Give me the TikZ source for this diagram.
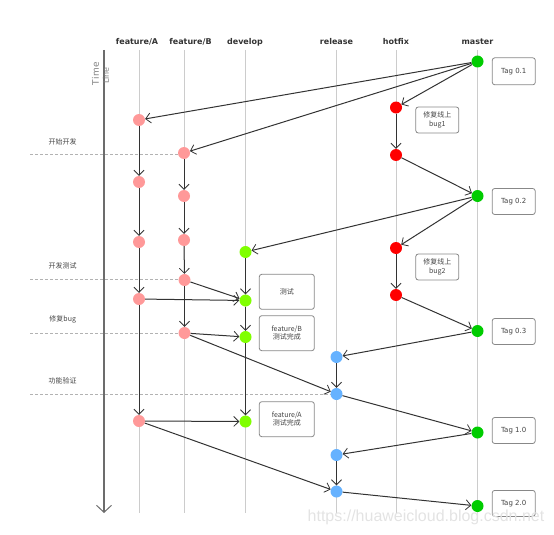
\documentclass[tikz,border=0pt]{standalone}
\usepackage{fontspec}
\setmainfont{DejaVu Sans}
\newfontfamily\cjk{Noto Sans CJK SC}
\newfontfamily\wmfont{Liberation Sans}
\newfontfamily\spacedfont[LetterSpace=8]{DejaVu Sans}
\usetikzlibrary{arrows.meta}
\definecolor{pinkc}{HTML}{FF9999}
\definecolor{devc}{HTML}{80FF00}
\definecolor{relc}{HTML}{66B2FF}
\definecolor{hotc}{HTML}{FF0000}
\definecolor{masc}{HTML}{00CC00}
\definecolor{lanec}{HTML}{CCCCCC}
\definecolor{edgec}{HTML}{333333}
\definecolor{boxc}{HTML}{888888}
\definecolor{txtc}{HTML}{444444}
\tikzset{
  lane/.style={draw=lanec, line width=0.9pt},
  phase/.style={draw=gray!60, line width=0.7pt, dash pattern=on 3pt off 2pt},
  dot/.style={circle, inner sep=0pt, minimum size=12pt},
  fdot/.style={dot, fill=pinkc},
  ddot/.style={dot, fill=devc},
  rdot/.style={dot, fill=relc},
  hdot/.style={dot, fill=hotc},
  mdot/.style={dot, fill=masc},
  edge/.style={draw=edgec, line width=1pt, -{Straight Barb[length=5pt,width=10pt,line width=0.8pt]}},
  lanelabel/.style={font=\fontsize{8}{9}\selectfont\bfseries, text=edgec},
  phaselabel/.style={font=\cjk\fontsize{7}{8}\selectfont, text=txtc},
  tagbox/.style={draw=boxc, rounded corners=2.5pt, fill=white, line width=0.8pt,
    minimum width=43pt, minimum height=26pt, inner sep=1pt, align=center,
    font=\fontsize{7}{8.5}\selectfont, text=txtc},
  notebox/.style={tagbox, minimum width=55pt, minimum height=35pt},
  timelabel/.style={rotate=90, anchor=west, text=gray, inner sep=0pt},
}
\begin{document}
\begin{tikzpicture}[x=1pt,y=-1pt]
\useasboundingbox (0,0) rectangle (554,535);
% lanes
\foreach \x in {139,184,245.5,336.5,396,477.5} \draw[lane] (\x,50) -- (\x,513);
% time axis
\draw[draw=gray!85!black, line width=1.6pt, -{Straight Barb[length=7pt,width=15pt,line width=1pt]}] (104,50) -- (104,513);
\node[timelabel, font=\spacedfont\fontsize{9}{10}\selectfont] (tl1) at (95.5,86) {Time};
\node[timelabel, font=\fontsize{8}{9}\selectfont] (tl2) at (106,84) {Line};
% phase lines
\draw[phase] (30,154) -- (184,154);
\draw[phase] (30,279) -- (184,279);
\draw[phase] (30,333) -- (184,333);
\draw[phase] (30,394) -- (336.5,394);
\node[phaselabel] (p1) at (62.7,141.7) {开始开发};
\node[phaselabel] (p2) at (62.7,265.7) {开发测试};
\node[phaselabel] (p3) at (62.7,319.3) {修复bug};
\node[phaselabel] (p4) at (62.7,380.7) {功能验证};
% lane labels
\node[lanelabel] (la) at (137,42) {feature/A};
\node[lanelabel] (lb) at (190.5,42) {feature/B};
\node[lanelabel] (ld) at (245,42) {develop};
\node[lanelabel] (lr) at (336.5,42) {release};
\node[lanelabel] (lh) at (396,42) {hotfix};
\node[lanelabel] (lm) at (477.5,42) {master};
% nodes
\node[fdot] (fa1) at (139,120) {};
\node[fdot] (fa2) at (139,182) {};
\node[fdot] (fa3) at (139,242) {};
\node[fdot] (fa4) at (139,299) {};
\node[fdot] (fa5) at (139,421) {};
\node[fdot] (fb1) at (184,153) {};
\node[fdot] (fb2) at (184,196) {};
\node[fdot] (fb3) at (184,240) {};
\node[fdot] (fb4) at (184.5,280) {};
\node[fdot] (fb5) at (184.5,333) {};
\node[ddot] (dv1) at (245.5,252) {};
\node[ddot] (dv2) at (245.5,300.5) {};
\node[ddot] (dv3) at (245.5,337) {};
\node[ddot] (dv4) at (245.5,421.5) {};
\node[rdot] (rl1) at (336.5,357) {};
\node[rdot] (rl2) at (336.5,394) {};
\node[rdot] (rl3) at (336.5,455) {};
\node[rdot] (rl4) at (336.5,491.5) {};
\node[hdot] (hf1) at (396,107.5) {};
\node[hdot] (hf2) at (396,155) {};
\node[hdot] (hf3) at (396,248) {};
\node[hdot] (hf4) at (396,295) {};
\node[mdot] (ms1) at (477.5,61.5) {};
\node[mdot] (ms2) at (477.5,196) {};
\node[mdot] (ms3) at (477.5,331) {};
\node[mdot] (ms4) at (477.5,432.5) {};
\node[mdot] (ms5) at (477.5,506) {};
% boxes
\node[tagbox, minimum height=27pt] (t01) at (513.8,71.3) {Tag 0.1};
\node[tagbox] (t02) at (513.7,201.5) {Tag 0.2};
\node[tagbox] (t03) at (513.7,331.5) {Tag 0.3};
\node[tagbox] (t10) at (513.7,430.5) {Tag 1.0};
\node[tagbox] (t20) at (513.7,503.4) {Tag 2.0};
\node[tagbox, font=\cjk\fontsize{7}{8.5}\selectfont] (b1) at (437.3,120) {修复线上\\bug1};
\node[tagbox, font=\cjk\fontsize{7}{8.5}\selectfont] (b2) at (437.3,267) {修复线上\\bug2};
\node[notebox, font=\cjk\fontsize{7}{8.5}\selectfont] (n1) at (286.8,291.8) {测试};
\node[notebox, font=\cjk\fontsize{7}{8.5}\selectfont] (n2) at (286.8,333.2) {feature/B\\测试完成};
\node[notebox, font=\cjk\fontsize{7}{8.5}\selectfont] (n3) at (286.8,419.2) {feature/A\\测试完成};
% edges
\draw[edge] (ms1) -- (fa1);
\draw[edge] (ms1) -- (fb1);
\draw[edge] (ms1) -- (hf1);
\draw[edge] (fa1) -- (fa2);
\draw[edge] (fa2) -- (fa3);
\draw[edge] (fa3) -- (fa4);
\draw[edge] (fa4) -- (fa5);
\draw[edge] (fb1) -- (fb2);
\draw[edge] (fb2) -- (fb3);
\draw[edge] (fb3) -- (fb4);
\draw[edge] (fb4) -- (fb5);
\draw[edge] (hf1) -- (hf2);
\draw[edge] (hf2) -- (ms2);
\draw[edge] (ms2) -- (dv1);
\draw[edge] (ms2) -- (hf3);
\draw[edge] (hf3) -- (hf4);
\draw[edge] (hf4) -- (ms3);
\draw[edge] (dv1) -- (dv2);
\draw[edge] (dv2) -- (dv3);
\draw[edge] (dv3) -- (dv4);
\draw[edge] (fb4) -- (dv2);
\draw[edge] (fa4) -- (dv2);
\draw[edge] (fb5) -- (dv3);
\draw[edge] (fb5) -- (rl2);
\draw[edge] (ms3) -- (rl1);
\draw[edge] (rl1) -- (rl2);
\draw[edge] (rl2) -- (ms4);
\draw[edge] (fa5) -- (dv4);
\draw[edge] (fa5) -- (rl4);
\draw[edge] (ms4) -- (rl3);
\draw[edge] (rl3) -- (rl4);
\draw[edge] (rl4) -- (ms5);
% watermark
\node[font=\wmfont\fontsize{16}{18}\selectfont, text=gray!22] (wm) at (426,517) {https://huaweicloud.blog.csdn.net};
\end{tikzpicture}
\end{document}
